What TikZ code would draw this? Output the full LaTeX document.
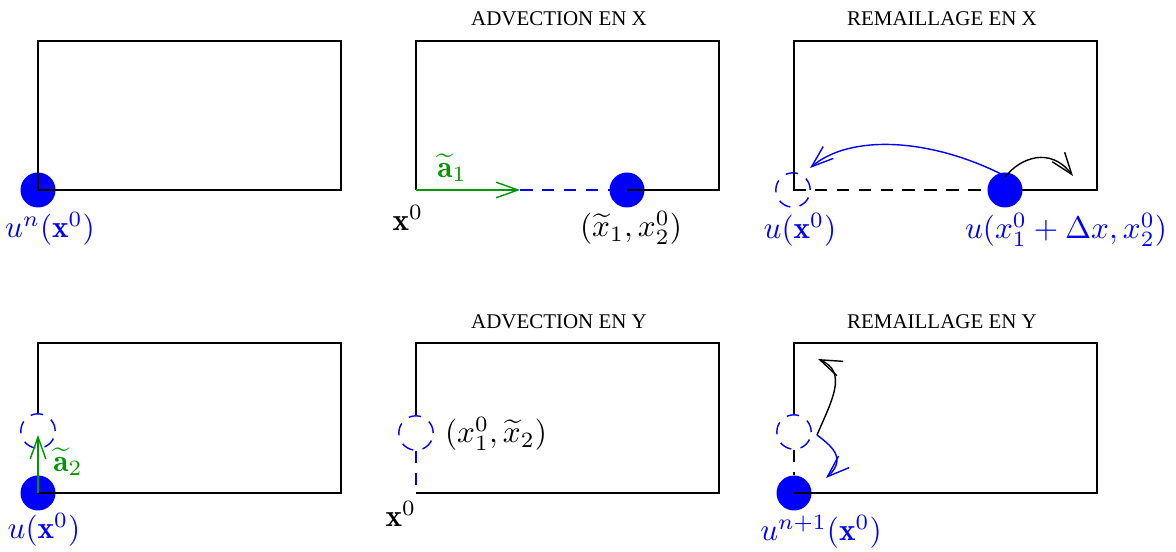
\documentclass[tikz,border=0pt]{standalone}
\usepackage{fontspec}
\newfontfamily\titlefont{Liberation Serif}
\usetikzlibrary{arrows.meta}
\definecolor{myblue}{RGB}{0,0,255}
\definecolor{mygreen}{RGB}{0,150,0}
\begin{document}
\begin{tikzpicture}[x=0.32pt,y=-0.32pt,
  frame/.style={draw=black, line width=0.5pt},
  fulldot/.style={circle, fill=myblue, inner sep=0pt, minimum size=11.2pt},
  ghost/.style={circle, draw=myblue, dash pattern=on 4pt off 3pt, inner sep=0pt, minimum size=11pt, line width=0.45pt},
  lbl/.style={inner sep=0pt},
  ttl/.style={inner sep=0pt, font=\titlefont\fontsize{6.7}{8}\selectfont},
  arr/.style={-{Straight Barb[length=7pt,width=5pt]}, line width=0.45pt},
  dsh/.style={dash pattern=on 4pt off 3pt, line width=0.45pt}]
\useasboundingbox (0,0) rectangle (1176,552);

% titles
\node[ttl] (t2) at (559,19) {ADVECTION EN X};
\node[ttl] (t3) at (942,19) {REMAILLAGE EN X};
\node[ttl] (t5) at (559,322) {ADVECTION EN Y};
\node[ttl] (t6) at (942,322) {REMAILLAGE EN Y};

% ---------- panel 1 ----------
\node[fulldot] (d1) at (38,190) {};
\draw[frame] (38,41) rectangle (341,190);
\node[lbl, text=myblue] (l1) at (50,229) {$u^n(\mathbf{x}^0)$};

% ---------- panel 2 ----------
\node[fulldot] (d2) at (627,190) {};
\coordinate (o2) at (416,190);
\coordinate (m2) at (520,190);
\draw[frame] (d2.center) -- (719,190) -- (719,41) -- (416,41) -- (o2);
\draw[arr, mygreen] (o2) -- (m2);
\draw[dsh, myblue] (m2) -- (d2.center);
\node[lbl, text=mygreen] (a2) at (452,168) {$\widetilde{\mathbf{a}}_1$};
\node[lbl] (x2) at (408,218) {$\mathbf{x}^0$};
\node[lbl] (l2) at (631,228) {$(\widetilde{x}_1,x_2^0)$};

% ---------- panel 3 ----------
\node[ghost] (g3) at (793,190) {};
\draw[frame] (1005,190) -- (1097,190) -- (1097,41) -- (794,41) -- (794,190);
\node[fulldot] (d3) at (1005,190) {};
\draw[dsh] (g3.center) -- (d3);
\coordinate (s3) at (1003,175);
\coordinate (e3) at (810,168);
\coordinate (k3) at (1005,177);
\coordinate (f3) at (1073,176);
\draw[arr, myblue] (s3) .. controls (930,138) and (850,134) .. (e3);
\draw[arr] (k3) .. controls (1020,158) and (1050,146) .. (f3);
\node[lbl, text=myblue] (l3a) at (800,230) {$u(\mathbf{x}^0)$};
\node[lbl, text=myblue] (l3b) at (1066,230) {$u(x_1^0+\Delta x,x_2^0)$};

% ---------- panel 4 ----------
\node[fulldot] (d4) at (38,493) {};
\node[ghost] (g4) at (38,431) {};
\draw[frame] (g4.north) -- (38,343) -- (341,343) -- (341,493) -- (d4.center);
\coordinate (e4) at (38,435);
\draw[arr, mygreen] (d4.center) -- (e4);
\node[lbl, text=mygreen] (a4) at (68,462) {$\widetilde{\mathbf{a}}_2$};
\node[lbl, text=myblue] (l4) at (44,530) {$u(\mathbf{x}^0)$};

% ---------- panel 5 ----------
\node[ghost] (g5) at (416,433) {};
\coordinate (o5) at (416,493);
\draw[frame] (g5.north) -- (416,343) -- (719,343) -- (719,493) -- (o5);
\draw[dsh, myblue] (g5.south) -- (o5);
\node[lbl] (x5) at (401,514) {$\mathbf{x}^0$};
\node[lbl] (l5) at (496,434) {$(x_1^0,\widetilde{x}_2)$};

% ---------- panel 6 ----------
\node[fulldot] (d6) at (794,493) {};
\node[ghost] (g6) at (794,432) {};
\draw[frame] (g6.north) -- (794,343) -- (1097,343) -- (1097,493) -- (d6.center);
\draw[dsh] (g6.south) -- (d6);
\coordinate (s6) at (817,435);
\coordinate (e6) at (818,359);
\coordinate (f6) at (826,478);
\draw[arr] (s6) .. controls (832,400) and (848,372) .. (e6);
\draw[arr, myblue] (s6) .. controls (830,445) and (848,458) .. (f6);
\node[lbl, text=myblue] (l6) at (821,532) {$u^{n+1}(\mathbf{x}^0)$};
\end{tikzpicture}
\end{document}
